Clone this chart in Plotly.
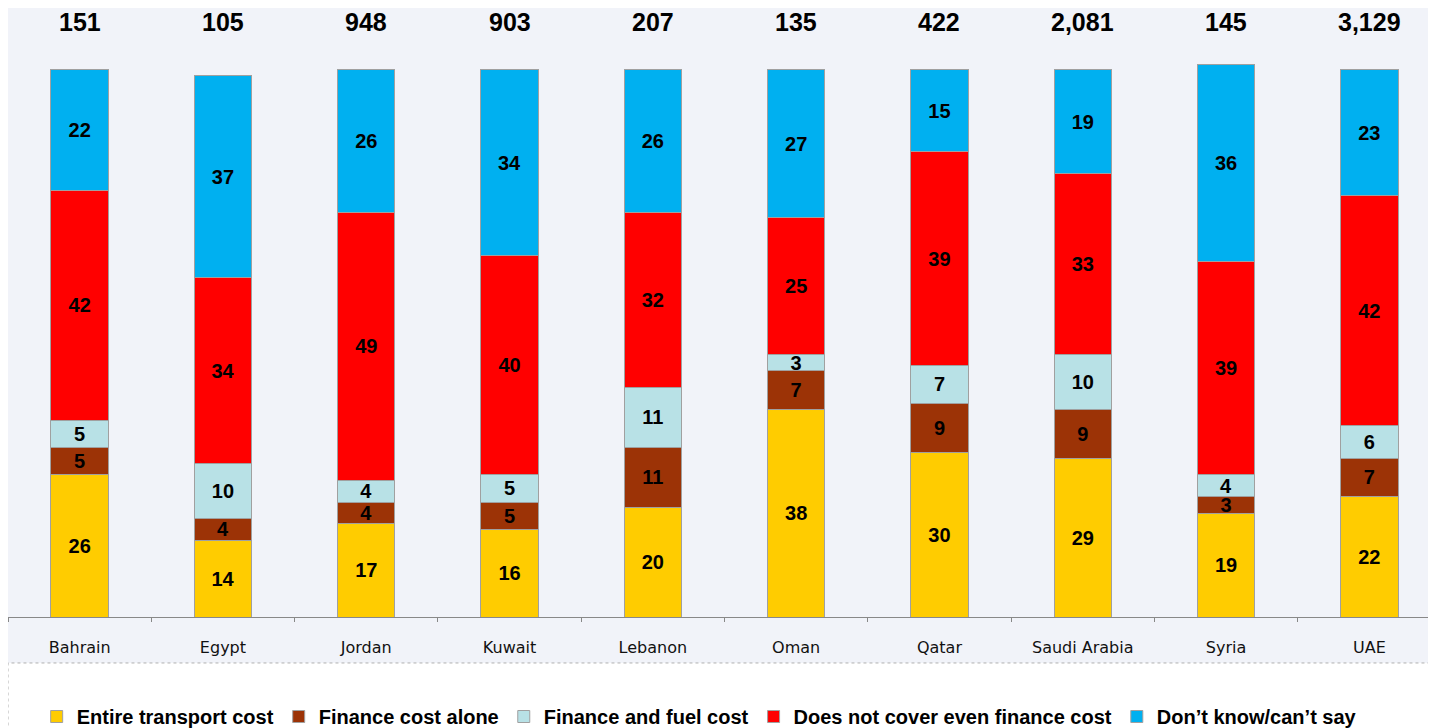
import plotly.graph_objects as go

paises = ['Bahrain', 'Egypt', 'Jordan', 'Kuwait', 'Lebanon', 'Oman', 'Qatar',
          'Saudi Arabia', 'Syria', 'UAE']
totais = ['151', '105', '948', '903', '207', '135', '422', '2,081', '145', '3,129']

entire_transport = [26, 14, 17, 16, 20, 38, 30, 29, 19, 22]
finance_alone = [5, 4, 4, 5, 11, 7, 9, 9, 3, 7]
finance_fuel = [5, 10, 4, 5, 11, 3, 7, 10, 4, 6]
not_cover = [42, 34, 49, 40, 32, 25, 39, 33, 39, 42]
dont_know = [22, 37, 26, 34, 26, 27, 15, 19, 36, 23]

series = [
    ('Entire transport cost', entire_transport, '#FFCC00'),
    ('Finance cost alone', finance_alone, '#9C3306'),
    ('Finance and fuel cost', finance_fuel, '#B8E1E6'),
    ('Does not cover even finance cost', not_cover, '#FF0000'),
    ('Don\u2019t know/can\u2019t say', dont_know, '#00B0F0'),
]

fig = go.Figure()
for nome, valores, cor in series:
    fig.add_trace(go.Bar(
        x=paises, y=valores, name=nome,
        marker=dict(color=cor, line=dict(color='#a0a0a0', width=1)),
        text=valores, textposition='inside', insidetextanchor='middle',
        textfont=dict(family='Liberation Sans', size=20, color='black', weight='bold'),
        textangle=0, width=0.4,
    ))

# totais acima das barras
for p, t in zip(paises, totais):
    fig.add_annotation(x=p, y=1.0, yref='paper', yanchor='top', yshift=2, text='<b>%s</b>' % t,
                       showarrow=False, font=dict(family='Liberation Sans', size=25, color='black'))

# caixa da legenda
fig.add_shape(type='rect', xref='paper', yref='paper', x0=0, x1=1.01, y0=-0.2, y1=-0.0755,
              line=dict(color='#b0b0b0', width=1, dash='dot'), fillcolor='white', layer='below')

fig.update_layout(
    barmode='stack',
    width=1436, height=728,
    margin=dict(l=0, r=3, t=0, b=119),
    paper_bgcolor='#f1f3f9',
    plot_bgcolor='rgba(0,0,0,0)',
    showlegend=True,
    legend=dict(orientation='h', x=0.02, xanchor='left', y=-0.132, yanchor='top',
                font=dict(family='Liberation Sans', size=20, color='black', weight='bold'),
                bgcolor='rgba(0,0,0,0)', traceorder='normal', itemwidth=30),
    uniformtext=dict(minsize=20, mode='show'),
    xaxis=dict(showline=True, linecolor='#888888', linewidth=1, ticks='outside',
               tickson='boundaries', ticklen=4, tickcolor='#888888', ticklabelstandoff=16,
               tickfont=dict(family='DejaVu Sans', size=16, color='#111111'), showgrid=False),
    yaxis=dict(range=[0, 111.3], visible=False, showgrid=False),
)

fig.write_html('out.html')
